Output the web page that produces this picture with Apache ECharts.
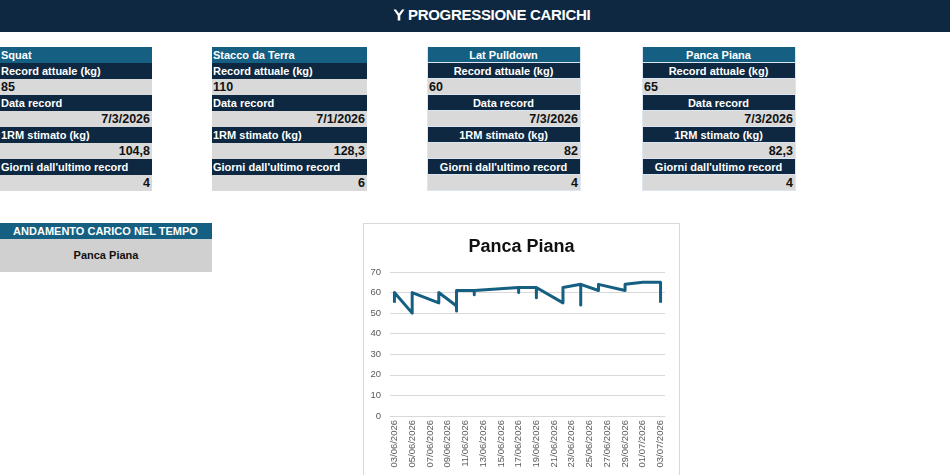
<!DOCTYPE html>
<html>
<head>
<meta charset="utf-8">
<script src="https://cdn.jsdelivr.net/npm/echarts@6/dist/echarts.min.js"></script>
<style>
    html, body { margin: 0; padding: 0; width: 950px; height: 475px; overflow: hidden; background: #fff; }
    body { position: relative; font-family: "Liberation Sans", Arial, sans-serif; }
    .topbar { position: absolute; left: 0; top: 0; width: 950px; height: 32px; background: #0e2841; }
    .topbar .ttl { position: absolute; left: 393px; top: 6px; color: #fff; font: bold 15px "Liberation Sans", Arial, sans-serif; letter-spacing: -0.3px; white-space: nowrap; }
    .topbar svg { vertical-align: -1px; margin-right: 3px; }
    .card { position: absolute; top: 47px; }
    .row { height: 16px; line-height: 16px; font-size: 11px; font-weight: bold; white-space: nowrap; overflow: hidden; padding: 0 2px 0 1px; box-sizing: border-box; }
    .hd { background: #156082; color: #fff; }
    .lb { background: #0e2841; color: #fff; }
    .vl { background: #d9d9d9; color: #111; font-size: 12.5px; }
    .r { text-align: right; }
    .c { text-align: center; }
    .framed .row { border-bottom: 1px solid #dce6f1; border-left: 1px solid #dce6f1; border-right: 1px solid #dce6f1; }
    .sel { position: absolute; left: 0; top: 223px; width: 212px; }
    .sel .hd { text-align: center; }
    .sel .pick { height: 33px; line-height: 32px; background: #d0d0d0; text-align: center; font-weight: bold; font-size: 11px; color: #111; }
    #chart { position: absolute; left: 363px; top: 223px; width: 317px; height: 260px; border: 1px solid #d9d9d9; box-sizing: border-box; background: #fff; }
</style>
</head>
<body>
<div class="topbar">
    <div class="ttl"><svg width="12" height="12" viewBox="0 0 12 12"><path d="M0.5 0.5 L3 0.5 L6 4.5 L9 0.5 L11.5 0.5 L7.3 6.5 L7.3 11.5 L4.7 11.5 L4.7 6.5 Z" fill="#fff"/></svg>PROGRESSIONE CARICHI</div>
</div>
<div id="cards"></div>
<div class="sel">
    <div class="row hd">ANDAMENTO CARICO NEL TEMPO</div>
    <div class="pick">Panca Piana</div>
</div>
<div id="chart"></div>

<script>
// riepilogo esercizi
let exercises = ['Squat', 'Stacco da Terra', 'Lat Pulldown', 'Panca Piana'];
let recordKg = ['85', '110', '60', '65'];
let recordDate = ['7/3/2026', '7/1/2026', '7/3/2026', '7/3/2026'];
let oneRepMax = ['104,8', '128,3', '82', '82,3'];
let daysSince = ['4', '6', '4', '4'];
let rowLabels = ['Record attuale (kg)', 'Data record', '1RM stimato (kg)', "Giorni dall'ultimo record"];

// grafico Panca Piana
let chartTitle = 'Panca Piana';
let axisDates = ['03/06/2026', '04/06/2026', '05/06/2026', '06/06/2026', '07/06/2026', '08/06/2026',
    '09/06/2026', '10/06/2026', '11/06/2026', '12/06/2026', '13/06/2026', '14/06/2026', '15/06/2026',
    '16/06/2026', '17/06/2026', '18/06/2026', '19/06/2026', '20/06/2026', '21/06/2026', '22/06/2026',
    '23/06/2026', '24/06/2026', '25/06/2026', '26/06/2026', '27/06/2026', '28/06/2026', '29/06/2026',
    '30/06/2026', '01/07/2026', '02/07/2026', '03/07/2026'];
let setDates = ['03/06/2026', '03/06/2026', '05/06/2026', '05/06/2026', '08/06/2026', '08/06/2026',
    '10/06/2026', '10/06/2026', '10/06/2026', '12/06/2026', '12/06/2026', '12/06/2026',
    '17/06/2026', '17/06/2026', '17/06/2026', '19/06/2026', '19/06/2026', '19/06/2026',
    '22/06/2026', '22/06/2026', '24/06/2026', '24/06/2026', '24/06/2026', '26/06/2026', '26/06/2026',
    '29/06/2026', '29/06/2026', '01/07/2026', '03/07/2026', '03/07/2026'];
let setLoads = [55, 60, 50, 60, 55, 60,
    53.5, 51, 61, 61, 59, 61,
    62.5, 60, 62.5, 62.5, 57.5, 62.5,
    55, 62.5, 64, 54, 64, 61, 64,
    61, 64, 65, 65, 55];

let cardX = [0, 212, 427, 642];
let cardW = [152, 155, 154, 154];

function buildCards() {
    let host = document.getElementById('cards');
    exercises.forEach((name, i) => {
        let centered = i >= 2;
        let card = document.createElement('div');
        card.className = 'card' + (centered ? ' framed' : '');
        card.style.left = cardX[i] + 'px';
        card.style.width = cardW[i] + 'px';
        let al = centered ? ' c' : '';
        let values = [recordKg[i], recordDate[i], oneRepMax[i], daysSince[i]];
        let html = `<div class="row hd${al}">${name}</div>`;
        rowLabels.forEach((lab, k) => {
            html += `<div class="row lb${al}">${lab}</div>`;
            html += `<div class="row vl${k > 0 ? ' r' : ''}">${values[k]}</div>`;
        });
        card.innerHTML = html;
        host.appendChild(card);
    });
}

function buildChart() {
    let myChart = echarts.init(document.getElementById('chart'), null, {renderer: 'canvas'});
    let option = {
        animation: false,
        title: {
            text: chartTitle,
            left: 'center',
            top: 9,
            textStyle: {fontFamily: 'Liberation Sans', fontWeight: 'bold', fontSize: 18, color: '#111'}
        },
        grid: {left: 26, right: 14, top: 48, bottom: 66},
        xAxis: {
            type: 'category',
            data: axisDates,
            boundaryGap: true,
            axisLine: {show: true, lineStyle: {color: '#d9d9d9'}},
            axisTick: {show: false},
            axisLabel: {
                interval: 1,
                rotate: 90,
                margin: 4,
                color: '#595959',
                fontSize: 9.5,
                fontFamily: 'Liberation Sans'
            },
            splitLine: {show: false}
        },
        yAxis: {
            type: 'value',
            min: 0,
            max: 70,
            interval: 10,
            axisLine: {show: false},
            axisTick: {show: false},
            axisLabel: {color: '#595959', fontSize: 9.5, margin: 9, fontFamily: 'Liberation Sans'},
            splitLine: {lineStyle: {color: '#d9d9d9', width: 1}}
        },
        series: [{
            type: 'line',
            data: setDates.map((d, i) => [d, setLoads[i]]),
            showSymbol: false,
            symbol: 'none',
            lineStyle: {color: '#156082', width: 3, join: 'round'},
            itemStyle: {color: '#156082'}
        }]
    };
    myChart.setOption(option);
    return myChart;
}

buildCards();
buildChart();
</script>
</body>
</html>
